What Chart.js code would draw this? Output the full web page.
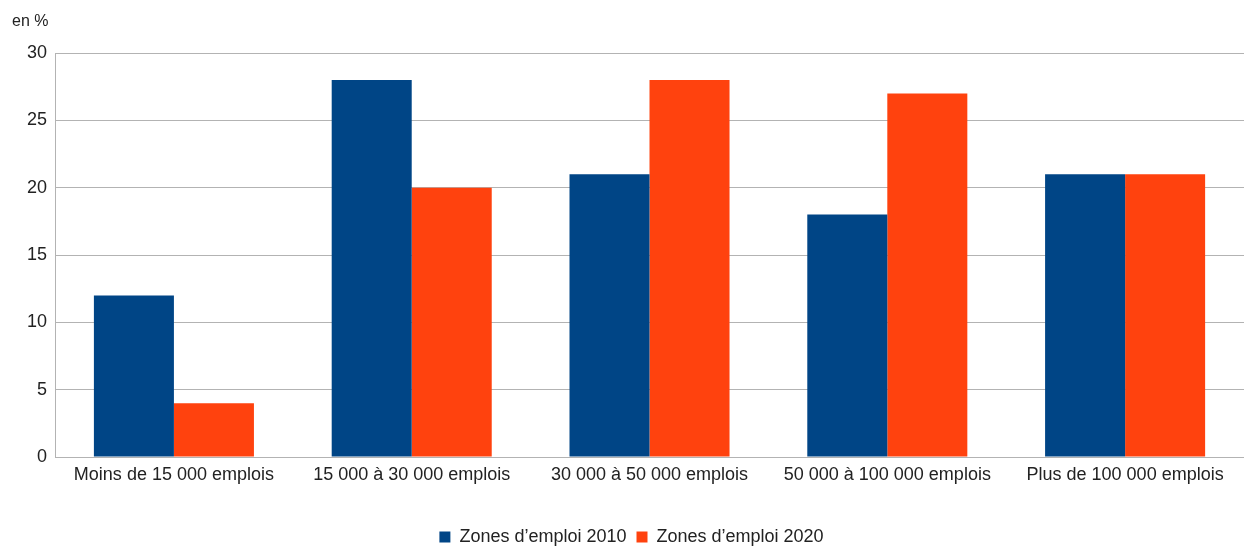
<!DOCTYPE html>
<html>
<head>
<meta charset="utf-8">
<script src="https://cdn.jsdelivr.net/npm/chart.js@4"></script>
<style>
html,body{margin:0;padding:0;background:#fff;overflow:hidden;}
#wrap{width:1244px;height:546px;}
</style>
</head>
<body>
<div id="wrap"><canvas id="c" width="1244" height="546"></canvas></div>
<script>
const categories = ["Moins de 15 000 emplois","15 000 à 30 000 emplois","30 000 à 50 000 emplois","50 000 à 100 000 emplois","Plus de 100 000 emplois"];
const series2010 = [12, 28, 21, 18, 21];
const series2020 = [4, 20, 28, 27, 21];
const seriesNames = ["Zones d’emploi 2010", "Zones d’emploi 2020"];
const yUnit = "en %";

const FONT = '"Liberation Sans", Arial, sans-serif';

const unitLabel = {
  id: 'unitLabel',
  afterDraw(chart) {
    const ctx = chart.ctx;
    ctx.save();
    ctx.font = '16px ' + FONT;
    ctx.fillStyle = '#222';
    ctx.textAlign = 'left';
    ctx.textBaseline = 'middle';
    ctx.fillText(yUnit, 12, 22);
    ctx.restore();
  }
};

new Chart(document.getElementById('c'), {
  type: 'bar',
  data: {
    labels: categories,
    datasets: [
      { label: seriesNames[0], data: series2010, backgroundColor: '#004586', borderWidth: 0 },
      { label: seriesNames[1], data: series2020, backgroundColor: '#ff420e', borderWidth: 0 }
    ]
  },
  options: {
    responsive: false,
    animation: false,
    devicePixelRatio: 1,
    layout: { padding: { top: 53, right: 0, left: 19, bottom: -10 } },
    datasets: { bar: { categoryPercentage: 0.673, barPercentage: 1.0 } },
    plugins: {
      legend: {
        position: 'bottom',
        labels: {
          boxWidth: 11, boxHeight: 11, padding: 10,
          color: '#222',
          font: { family: FONT, size: 18 }
        }
      },
      tooltip: { enabled: false },
      title: { display: false }
    },
    scales: {
      x: {
        grid: { display: false, drawTicks: false },
        border: { display: false },
        ticks: { color: '#222', padding: 7, maxRotation: 0, font: { family: FONT, size: 18 } },
        afterFit(scale) { scale.height = 61; }
      },
      y: {
        min: 0, max: 30,
        ticks: { stepSize: 5, color: '#222', padding: 8, font: { family: FONT, size: 18 } },
        grid: { color: '#b3b3b3', drawTicks: false, lineWidth: 1 },
        border: { display: true, color: '#b3b3b3' }
      }
    }
  },
  plugins: [unitLabel]
});
</script>
</body>
</html>
